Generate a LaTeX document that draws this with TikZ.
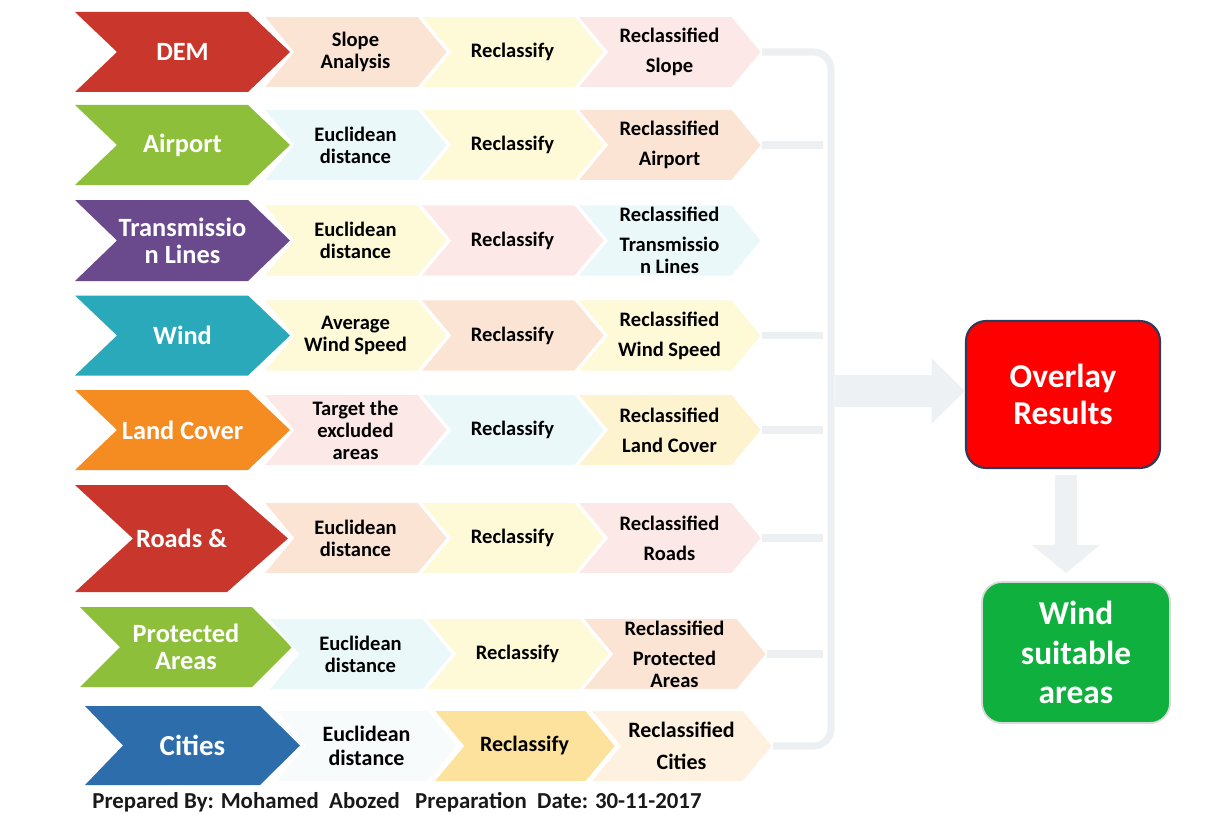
\documentclass[tikz,border=0pt]{standalone}
\usepackage{fontspec}
\setmainfont{Carlito}
\usetikzlibrary{arrows.meta}
\definecolor{cRed}{HTML}{C9372C}
\definecolor{cLime}{HTML}{8DBF3B}
\definecolor{cPurple}{HTML}{6A4A8C}
\definecolor{cTeal}{HTML}{2AA9BA}
\definecolor{cOrange}{HTML}{F58C22}
\definecolor{cBlue}{HTML}{2E6DAC}
\definecolor{pPeach}{HTML}{FBE4D4}
\definecolor{pYellow}{HTML}{FEF9D6}
\definecolor{pPink}{HTML}{FCE8E6}
\definecolor{pCyan}{HTML}{EBF8FA}
\definecolor{pYellowB}{HTML}{FEF3CF}
\definecolor{pWhite}{HTML}{F8FBFC}
\definecolor{pGold}{HTML}{FDE29E}
\definecolor{pCream}{HTML}{FEF1DF}
\definecolor{conGray}{HTML}{EDF0F2}
\definecolor{arrGray}{HTML}{EEF1F3}
\definecolor{ovRed}{HTML}{FF0000}
\definecolor{ovBorder}{HTML}{2E3A59}
\definecolor{winGreen}{HTML}{10B03E}
\tikzset{
  mainlbl/.style={text=white, font=\bfseries\fontsize{15}{15.5}\selectfont, align=center, inner sep=0pt},
  sublbl/.style={text=black, font=\bfseries\fontsize{11.7}{12.5}\selectfont, align=center, inner sep=0pt},
  bigsub/.style={font=\bfseries\fontsize{12.5}{13.5}\selectfont},
  conn/.style={draw=conGray, line width=4pt},
  bigarrow/.style={draw=arrGray, line width=18pt, -{Triangle[width=36pt,length=19pt]}},
  downarrow/.style={draw=arrGray, line width=13pt, -{Triangle[width=38pt,length=16pt]}},
  resbox/.style={rounded corners=0.4cm, align=center, text=white, font=\bfseries\fontsize{19}{21}\selectfont},
}
\newcommand{\mainchev}[9]{%
  \fill[#8] (#2,{#3-#5}) -- ({#2+#4-#6},{#3-#5}) -- ({#2+#4},#3) -- ({#2+#4-#6},{#3+#5}) -- (#2,{#3+#5}) -- ({#2+#7},#3) -- cycle;
  \node[mainlbl] (#1) at ({#2+#4/2},#3) {#9};}
\newcommand{\subchev}[7]{%
  \filldraw[fill=#5, draw=white, line width=1pt] (#2,{#3-36}) -- ({#2+#4-30},{#3-36}) -- ({#2+#4},#3) -- ({#2+#4-30},{#3+36}) -- (#2,{#3+36}) -- ({#2+30},#3) -- cycle;
  \node[sublbl,#6] (#1) at ({#2+#4/2},#3) {#7};}
\begin{document}
\begin{tikzpicture}[x=0.02cm, y=-0.02cm]
\fill[white] (0,0) rectangle (1212,814);
\useasboundingbox (0,0) rectangle (1212,814);
% Row 1
\mainchev{dem}{75}{52}{215}{40}{42}{42}{cRed}{DEM}
\subchev{a1}{263}{52}{185}{pPeach}{}{Slope\\Analysis}
\subchev{b1}{420}{52}{185}{pYellow}{}{Reclassify}
\subchev{r1}{577}{52}{185}{pPink}{}{Reclassified\\[4.5pt]Slope}
% Row 2
\mainchev{air}{75}{145}{215}{40}{42}{42}{cLime}{Airport}
\subchev{a2}{263}{145}{185}{pCyan}{}{Euclidean\\distance}
\subchev{b2}{420}{145}{185}{pYellow}{}{Reclassify}
\subchev{r2}{577}{145}{185}{pPeach}{}{Reclassified\\[4.5pt]Airport}
% Row 3
\mainchev{trans}{75}{240.5}{215}{40.5}{42}{42}{cPurple}{Transmissio\\n Lines}
\subchev{a3}{263}{240.5}{185}{pYellow}{}{Euclidean\\distance}
\subchev{b3}{420}{240.5}{185}{pPink}{}{Reclassify}
\subchev{r3}{577}{240.5}{185}{pCyan}{}{Reclassified\\[4.5pt]Transmissio\\n Lines}
% Row 4
\mainchev{wind}{75}{335.5}{215}{40}{42}{42}{cTeal}{Wind}
\subchev{a4}{263}{335.5}{185}{pYellow}{}{Average\\Wind Speed}
\subchev{b4}{420}{335.5}{185}{pPeach}{}{Reclassify}
\subchev{r4}{577}{335.5}{185}{pYellow}{}{Reclassified\\[4.5pt]Wind Speed}
% Row 5
\mainchev{land}{75}{430}{215}{40}{42}{42}{cOrange}{Land Cover}
\subchev{a5}{263}{430}{185}{pPink}{}{Target the\\excluded\\areas}
\subchev{b5}{420}{430}{185}{pCyan}{}{Reclassify}
\subchev{r5}{577}{430}{185}{pYellowB}{}{Reclassified\\[4.5pt]Land Cover}
% Row 6
\mainchev{roads}{75}{538.5}{213}{53.5}{61}{58}{cRed}{Roads \&}
\subchev{a6}{263}{538}{185}{pPeach}{}{Euclidean\\distance}
\subchev{b6}{420}{538}{185}{pYellow}{}{Reclassify}
\subchev{r6}{577}{538}{185}{pPink}{}{Reclassified\\[4.5pt]Roads}
% Row 7
\mainchev{prot}{80}{647}{212}{40}{40}{40}{cLime}{Protected\\Areas}
\subchev{a7}{268}{654}{185}{pCyan}{}{Euclidean\\distance}
\subchev{b7}{425}{654}{185}{pYellow}{}{Reclassify}
\subchev{r7}{582}{654}{185}{pPeach}{}{Reclassified\\[4.5pt]Protected\\Areas}
% Row 8
\mainchev{cities}{85}{745.5}{215}{39.5}{40}{38}{cBlue}{\fontsize{16.5}{17}\selectfont Cities}
\subchev{a8}{275}{746}{183}{pWhite}{bigsub}{Euclidean\\distance}
\subchev{b8}{433}{746}{183}{pGold}{bigsub}{Reclassify}
\subchev{r8}{590}{746}{183}{pCream}{bigsub}{Reclassified\\[4.5pt]Cities}
% connector tips
\coordinate (t1) at (762,52);
\coordinate (t2) at (762,145);
\coordinate (t4) at (762,335.5);
\coordinate (t5) at (762,430);
\coordinate (t6) at (762,538);
\coordinate (t7) at (767,654);
\coordinate (t8) at (773,746);
\coordinate (bt) at (831,52);
\coordinate (bb) at (831,746);
\coordinate (stop) at (823,0);
\draw[conn, rounded corners=10] (t1) -- (bt) -- (bb) -- (t8);
\foreach \t in {t2,t4,t5,t6,t7} \draw[conn] (\t) -- (\t -| stop);
% result boxes
\node[resbox, fill=ovRed, draw=ovBorder, line width=1.2pt, minimum width=3.88cm, minimum height=2.94cm] (ov) at (1063,394.5) {Overlay\\Results};
\node[resbox, fill=winGreen, draw=black!15, line width=1pt, minimum width=3.76cm, minimum height=2.82cm, font=\bfseries\fontsize{19}{22.5}\selectfont] (ws) at (1076,652.5) {Wind\\suitable\\areas};
\coordinate (ba) at (835,391);
\draw[bigarrow] (ba) -- (ba -| ov.west);
\draw[downarrow, shorten <=0.14cm, shorten >=0.18cm] (1066,468) -- (1066,582);
% footer
\node[anchor=base west, inner sep=0pt, font=\bfseries\fontsize{13}{14}\selectfont, text=black!90] (foot) at (92,808) {Prepared By: Mohamed\ \ Abozed\ \ \ Preparation\ \ Date: 30-11-2017};
\end{tikzpicture}
\end{document}
